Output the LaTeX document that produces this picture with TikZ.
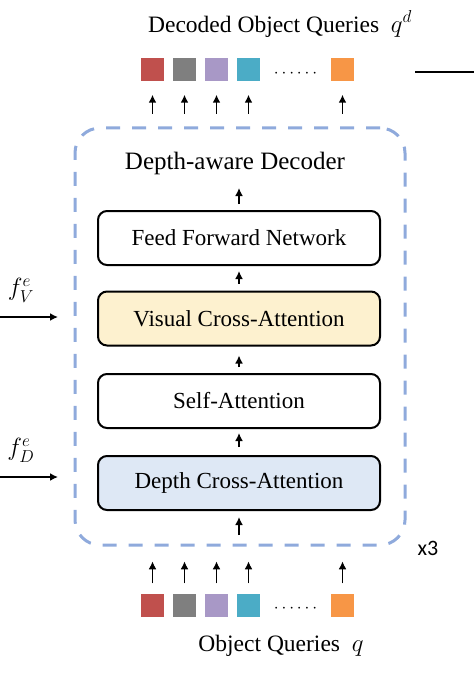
\documentclass[tikz,border=0pt]{standalone}
\usepackage{amsmath}
\usepackage{fontspec}
\setmainfont{Liberation Serif}
\newfontfamily\calibri{Carlito}
\usepackage{tikz}
\usetikzlibrary{positioning,arrows.meta}
\usepackage{xcolor}

\definecolor{qred}{HTML}{C0504D}
\definecolor{qgray}{HTML}{7F7F7F}
\definecolor{qpurple}{HTML}{A898C6}
\definecolor{qteal}{HTML}{4BACC6}
\definecolor{qorange}{HTML}{F79646}
\definecolor{dashblue}{HTML}{8FAADC}
\definecolor{vcafill}{HTML}{FDF1CF}
\definecolor{dcafill}{HTML}{DEE8F5}

\tikzset{
  layer/.style={draw=black, line width=2pt, rounded corners=9pt, minimum width=282pt, minimum height=54pt, font=\fontsize{23}{26}\selectfont},
  query/.style={minimum size=23pt, inner sep=0pt},
  arr/.style={-{Latex[length=8pt,width=8pt]}, line width=1.8pt},
}

\begin{document}
\begin{tikzpicture}[x=1pt, y=-1pt]
	\useasboundingbox (0,0) rectangle (474,679);
	% decoder block
	\node [draw=dashblue, line width=3pt, dash pattern=on 14pt off 12pt, rounded corners=25pt, minimum width=330pt, minimum height=417pt] (dec) at (240, 336.5) {};
	\node [font=\fontsize{25}{28}\selectfont] (title) at (235, 163) {Depth-aware Decoder};
	\node [layer] (ffn) at (239, 238) {Feed Forward Network};
	\node [layer, fill=vcafill] (vca) at (239, 318.5) {Visual Cross-Attention};
	\node [layer] (sa) at (239, 401) {Self-Attention};
	\node [layer, fill=dcafill] (dca) at (239, 483) {Depth Cross-Attention};
	\node [font=\calibri\fontsize{22}{24}\selectfont] (rep) at (428, 548) {x3};
	% inner arrows
	\draw [arr] ([yshift=6pt]ffn.north) -- ([yshift=22pt]ffn.north);
	\draw [arr] ([yshift=7pt]vca.north) -- ([yshift=-5pt]ffn.south);
	\draw [arr] ([yshift=6pt]sa.north) -- ([yshift=-9pt]vca.south);
	\draw [arr] ([yshift=8pt]dca.north) -- ([yshift=-4pt]sa.south);
	\draw [arr] ([yshift=-24pt]dca.south) -- ([yshift=-6pt]dca.south);
	% side inputs
	\node [font=\fontsize{27}{28}\selectfont] (fv) at (21, 290) {$f_V^e$};
	\node [font=\fontsize{27}{28}\selectfont] (fd) at (21, 450) {$f_D^e$};
	\coordinate (fvin) at (0, 317);
	\coordinate (fdin) at (0, 477);
	\draw [arr] (fvin) -- (58, 317);
	\draw [arr] (fdin) -- (58, 477);
	% query tokens
	\foreach \c/\x [count=\i] in {qred/152.5, qgray/184.5, qpurple/216.5, qteal/248.5, qorange/342.5} {
		\node [query, fill=\c] (out\i) at (\x, 70) {};
		\node [query, fill=\c] (in\i) at (\x, 605) {};
		\draw [arr] ([yshift=-32pt]out\i.south) -- ([yshift=-13pt]out\i.south);
		\draw [arr] ([yshift=10pt]in\i.north) -- ([yshift=32pt]in\i.north);
	}
	\node [font=\fontsize{18}{20}\selectfont] (odots) at (297, 74) {$\cdots\cdots$};
	\node [font=\fontsize{18}{20}\selectfont] (idots) at (297, 609) {$\cdots\cdots$};
	\node [font=\fontsize{23.5}{26}\selectfont] (outlbl) at (280, 24) {Decoded Object Queries\ \ $q^d$};
	\node [font=\fontsize{23.5}{26}\selectfont] (inlbl) at (281, 646) {Object Queries\ \ $q$};
	% line to the right
	\coordinate (ra) at (415, 72);
	\coordinate (rb) at (474, 72);
	\draw [line width=2.5pt] (ra) -- (rb);
\end{tikzpicture}
\end{document}
